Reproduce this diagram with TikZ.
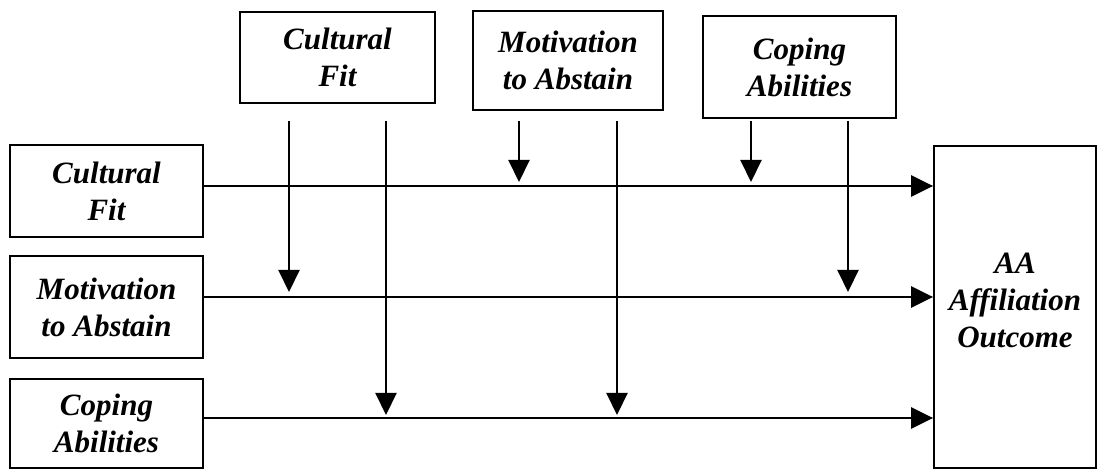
\documentclass[tikz,border=0pt]{standalone}
\usepackage{fontspec}
\setmainfont{Liberation Serif}
\usetikzlibrary{arrows.meta,calc}
\begin{document}
\begin{tikzpicture}[x=1pt,y=-1pt,
  box/.style={draw,line width=1.8pt,rectangle,inner sep=0pt,align=center,
    font=\fontsize{31}{37}\selectfont\bfseries\itshape},
  arr/.style={line width=2.6pt,-{Triangle[length=22pt,width=21pt]}},
  varr/.style={line width=2.1pt,-{Triangle[length=22pt,width=21pt]}}]
\useasboundingbox (0,0) rectangle (1101,470);
\fill[white] (0,0) rectangle (1101,470);
% top moderator boxes
\node[box,minimum width=195pt,minimum height=91pt] (cfT) at (337.5,57.5) {Cultural\\Fit};
\node[box,minimum width=190pt,minimum height=99pt] (mtT) at (568,60.5) {Motivation\\to Abstain};
\node[box,minimum width=193pt,minimum height=102pt] (cpT) at (799.5,67) {Coping\\Abilities};
% left predictor boxes
\node[box,minimum width=193pt,minimum height=92pt] (cfL) at (106.5,191) {Cultural\\Fit};
\node[box,minimum width=193pt,minimum height=102pt] (mtL) at (106.5,307) {Motivation\\to Abstain};
\node[box,minimum width=193pt,minimum height=89pt] (cpL) at (106.5,423.5) {Coping\\Abilities};
% outcome
\node[box,minimum width=162pt,minimum height=322pt,text depth=14pt] (out) at (1015,307) {AA\\Affiliation\\Outcome};
% row levels
\coordinate (r1) at (0,186);
\coordinate (r2) at (0,297);
\coordinate (r3) at (0,418);
% horizontal paths
\draw[arr] (cfL.east |- r1) -- (out.west |- r1);
\draw[arr] (mtL.east |- r2) -- (out.west |- r2);
\draw[arr] (cpL.east |- r3) -- (out.west |- r3);
% moderator arrows
\coordinate (a1) at (289,121);
\coordinate (a2) at (386,121);
\coordinate (a3) at (519,121);
\coordinate (a4) at (617,121);
\coordinate (a5) at (751,121);
\coordinate (a6) at (848,121);
\draw[varr] (a1) -- ($(a1 |- r2)+(0,-5)$);
\draw[varr] (a2) -- ($(a2 |- r3)+(0,-3)$);
\draw[varr] (a3) -- ($(a3 |- r1)+(0,-4)$);
\draw[varr] (a4) -- ($(a4 |- r3)+(0,-3)$);
\draw[varr] (a5) -- ($(a5 |- r1)+(0,-4)$);
\draw[varr] (a6) -- ($(a6 |- r2)+(0,-5)$);
\end{tikzpicture}
\end{document}
